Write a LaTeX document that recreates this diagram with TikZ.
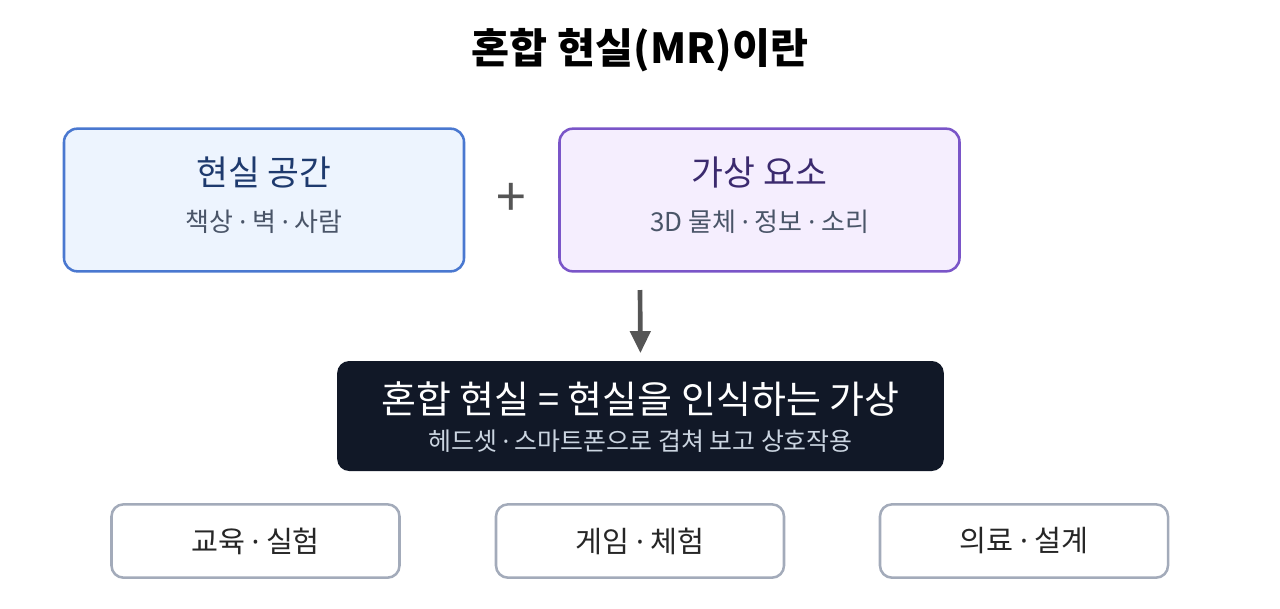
\documentclass[tikz,border=0pt]{standalone}
\usepackage{fontspec}
\setmainfont{Noto Sans CJK KR}
\newfontfamily\latinfont{Noto Sans}
\newcommand{\md}{{\latinfont ·}}
\usetikzlibrary{positioning,arrows.meta}

\definecolor{realline}{HTML}{4A78D0}
\definecolor{realfill}{HTML}{EDF4FE}
\definecolor{realtext}{HTML}{1E3A6E}
\definecolor{virtline}{HTML}{7A55C8}
\definecolor{virtfill}{HTML}{F5EEFE}
\definecolor{virttext}{HTML}{3B2A6E}
\definecolor{subtext}{HTML}{4A5568}
\definecolor{mrfill}{HTML}{111827}
\definecolor{mrsub}{HTML}{CBD5E1}
\definecolor{useline}{HTML}{A3ABBA}
\definecolor{arrowgray}{HTML}{555555}

\begin{document}
\begin{tikzpicture}[x=0.75pt, y=-0.75pt,
		box/.style={draw, rounded corners=10pt, line width=1.9pt, inner sep=0pt},
		realbox/.style={box, draw=realline, fill=realfill, minimum width=300pt, minimum height=107pt},
		virtbox/.style={box, draw=virtline, fill=virtfill, minimum width=300pt, minimum height=107pt},
		mrbox/.style={box, draw=none, fill=mrfill, rounded corners=9pt, minimum width=455pt, minimum height=82.5pt},
		usebox/.style={box, draw=useline, rounded corners=9pt, minimum width=216pt, minimum height=55pt, font=\fontsize{22}{26}\selectfont, text=black!85},
		head/.style={font=\fontsize{26}{30}\selectfont},
		sub/.style={font=\fontsize{19.5}{23}\selectfont, text=subtext},
		flow/.style={-{Triangle[length=16.5pt, width=15pt]}, line width=3.5pt, draw=arrowgray, shorten >=5pt}]
	\useasboundingbox (0,0) rectangle (1280,608);

	\node [font=\bfseries\fontsize{31}{36}\selectfont] (title) at (640,50) {혼합 현실(MR)이란};

	\node [realbox] (real) at (264,200) {};
	\node [head, text=realtext] (realT) at (264,172) {현실 공간};
	\node [sub] (realS) at (264,222) {책상 \md{} 벽 \md{} 사람};

	\node [virtbox] (virt) at (759.5,200) {};
	\node [head, text=virttext] (virtT) at (759.5,172) {가상 요소};
	\node [sub] (virtS) at (759.5,222) {3D 물체 \md{} 정보 \md{} 소리};

	\node [font=\fontsize{40}{44}\selectfont, text=arrowgray] (plus) at (511.5,200) {+};

	\node [mrbox] (mr) at (640.5,416) {};
	\node [font=\fontsize{28.5}{32}\selectfont, text=white] (mrT) at (640.5,399) {혼합 현실 = 현실을 인식하는 가상};
	\node [font=\fontsize{18.7}{22}\selectfont, text=mrsub] (mrS) at (640.5,441) {헤드셋 \md{} 스마트폰으로 겹쳐 보고 상호작용};

	\coordinate (join) at (640,290);
	\draw [flow] (join) -- (mr.north);

	\node [usebox] (edu) at (255.5,541) {교육 \md{} 실험};
	\node [usebox] (game) at (640,541) {게임 \md{} 체험};
	\node [usebox] (med) at (1024,541) {의료 \md{} 설계};
\end{tikzpicture}
\end{document}
